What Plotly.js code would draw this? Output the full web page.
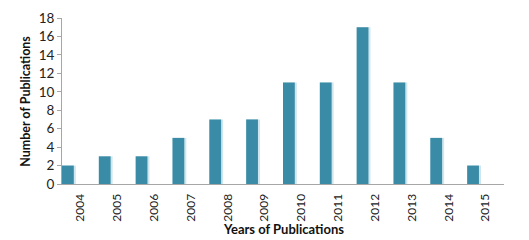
<!DOCTYPE html>
<html>
<head>
<meta charset="utf-8">
<script src="https://cdn.plot.ly/plotly-3.0.1.min.js"></script>
<style>html,body{margin:0;padding:0;background:#fff;}#chart{width:529px;height:240px;}</style>
</head>
<body>
<div id="chart"></div>
<script>
var years = ['2004','2005','2006','2007','2008','2009','2010','2011','2012','2013','2014','2015'];
var publications = [2, 3, 3, 5, 7, 7, 11, 11, 17, 11, 5, 2];
var yTickValues = [0, 2, 4, 6, 8, 10, 12, 14, 16, 18];
var xTitle = 'Years of Publications';
var yTitle = 'Number of Publications';

var shadow = {
  type: 'bar', x: years, y: publications,
  offset: -0.5, width: 0.375,
  marker: {color: '#cfe6ee'},
  hoverinfo: 'skip', showlegend: false
};
var bars = {
  type: 'bar', x: years, y: publications,
  offset: -0.5, width: 0.32,
  marker: {color: '#3a8ba5'},
  showlegend: false
};

var layout = {
  width: 529, height: 240,
  margin: {l: 62, r: 25, t: 18, b: 56},
  paper_bgcolor: '#fff', plot_bgcolor: '#fff',
  barmode: 'overlay',
  font: {family: 'Lato, "Open Sans", sans-serif', color: '#222', size: 13},
  xaxis: {
    type: 'category', range: [-0.5, 11.5],
    showgrid: false, zeroline: false,
    showline: true, linecolor: '#a6a6a6', linewidth: 1,
    ticks: '', tickangle: -90, ticklabelstandoff: 4,
    tickfont: {size: 12, color: '#222'}
  },
  yaxis: {
    range: [0, 18], tickvals: yTickValues,
    showgrid: false, zeroline: false,
    showline: true, linecolor: '#a6a6a6', linewidth: 1,
    ticks: 'outside', ticklen: 4, tickcolor: '#a6a6a6',
    tickfont: {size: 13.5, color: '#222'}
  },
  annotations: [
    {text: '<b>' + xTitle + '</b>', xref: 'paper', yref: 'paper', x: 0.5, y: -0.27,
     xanchor: 'center', yanchor: 'middle', showarrow: false, font: {size: 13, color: '#111'}},
    {text: '<b>' + yTitle + '</b>', xref: 'paper', yref: 'paper', x: -0.084, y: 0.5,
     xanchor: 'center', yanchor: 'middle', textangle: -90, showarrow: false, font: {size: 12.5, color: '#111'}}
  ]
};

Plotly.newPlot('chart', [shadow, bars], layout, {staticPlot: true, displayModeBar: false});
</script>
</body>
</html>
